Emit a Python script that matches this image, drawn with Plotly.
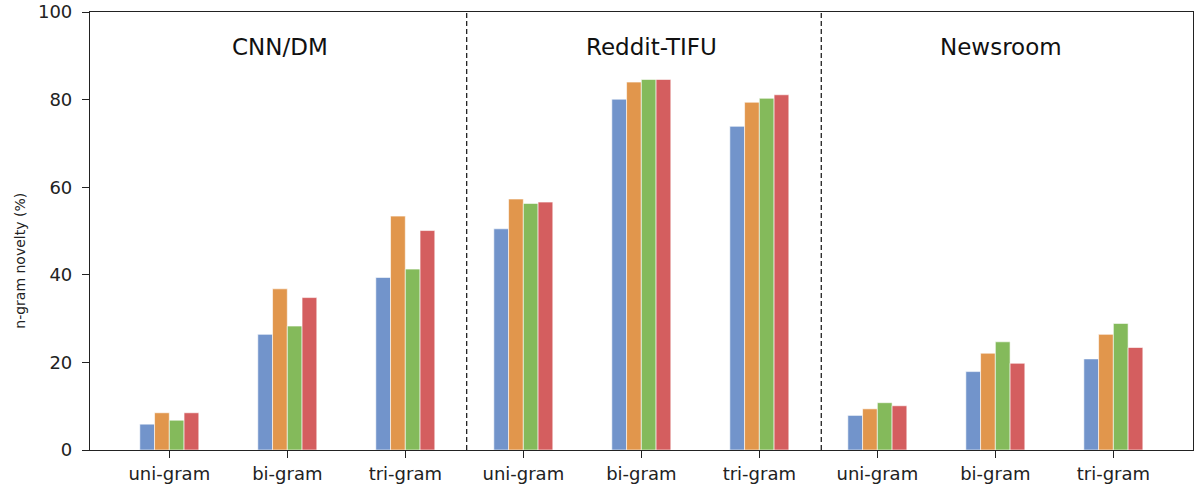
import plotly.graph_objects as go

categories = ["uni-gram", "bi-gram", "tri-gram"] * 3
datasets = ["CNN/DM", "Reddit-TIFU", "Newsroom"]
series_names = ["Model A", "Model B", "Model C", "Model D"]
series_a = [5.9, 26.4, 39.4, 50.5, 80.1, 73.9, 7.9, 17.9, 20.8]
series_b = [8.5, 36.8, 53.4, 57.3, 84.0, 79.4, 9.4, 22.1, 26.4]
series_c = [6.8, 28.3, 41.3, 56.3, 84.6, 80.3, 10.8, 24.7, 28.9]
series_d = [8.5, 34.8, 50.1, 56.6, 84.6, 81.1, 10.1, 19.8, 23.4]
y_ticks = [0, 20, 40, 60, 80, 100]

colors = ["#7294cb", "#e1964c", "#84ba5b", "#d45e5f"]
xs = list(range(len(categories)))

fig = go.Figure()
for name, vals, c in zip(series_names, [series_a, series_b, series_c, series_d], colors):
    fig.add_trace(go.Bar(x=xs, y=vals, name=name, marker_color=c,
                         marker_line=dict(color="white", width=0.6)))

for xv in [2.52, 5.525]:
    fig.add_shape(type="line", x0=xv, x1=xv, y0=0, y1=100, xref="x", yref="y",
                  line=dict(color="#222222", width=1.3, dash="5px,3px"))

for name, xv in zip(datasets, [0.94, 4.09, 7.05]):
    fig.add_annotation(x=xv, y=92, text=name, showarrow=False, xref="x", yref="y",
                       font=dict(family="DejaVu Sans", size=23, color="#111111"))

fig.add_annotation(x=-0.0635, y=0.432, xref="paper", yref="paper", text="n-gram novelty (%)",
                   textangle=-90, showarrow=False, xanchor="center", yanchor="middle",
                   font=dict(family="DejaVu Sans", size=14, color="#222222"))

fig.update_layout(
    width=1194, height=488,
    margin=dict(l=90, r=1, t=12, b=38, autoexpand=False),
    plot_bgcolor="white", paper_bgcolor="white",
    barmode="group", bargap=0.5, bargroupgap=0,
    showlegend=False,
    font=dict(family="DejaVu Sans", color="#222222"),
)
fig.update_xaxes(range=[-0.672, 8.675], tickvals=xs, ticktext=categories,
                 ticks="outside", ticklen=7, tickcolor="#222222",
                 tickfont=dict(size=18), ticklabelstandoff=0,
                 showline=True, linecolor="#222222", automargin=False,
                 linewidth=1.2, mirror=True, showgrid=False, zeroline=False)
fig.update_yaxes(range=[0, 100], tickvals=y_ticks, ticks="outside", ticklen=7,
                 tickcolor="#222222", tickfont=dict(size=18), ticklabelstandoff=6,
                 showline=True, automargin=False,
                 linecolor="#222222", linewidth=1.2, mirror=True, showgrid=False,
                 zeroline=False)

fig.write_html("out.html", config={"displayModeBar": False},
               post_script="document.body.style.margin='0px';document.body.style.padding='0px';")
